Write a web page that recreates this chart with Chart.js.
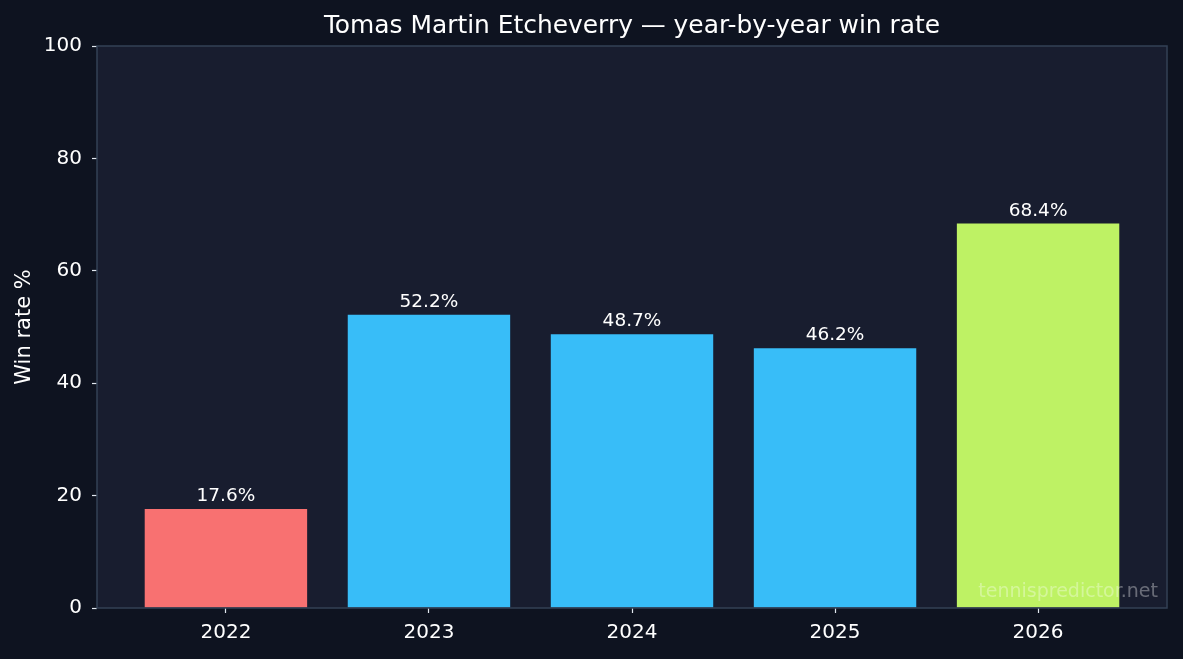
<!DOCTYPE html>
<html>
<head>
<meta charset="utf-8">
<script src="https://cdn.jsdelivr.net/npm/chart.js@4.4.1/dist/chart.umd.min.js"></script>
<style>
  html, body { margin: 0; padding: 0; background: #0e1320; }
  #wrap { width: 1183px; height: 659px; }
</style>
</head>
<body>
<div id="wrap"><canvas id="chart" width="1183" height="659"></canvas></div>
<script>
// data
const years = [2022, 2023, 2024, 2025, 2026];
const winRates = [17.6, 52.2, 48.7, 46.2, 68.4];
const barColors = ['#f87171', '#38bdf8', '#38bdf8', '#38bdf8', '#bef264'];
const yTicks = [0, 20, 40, 60, 80, 100];

const titleText = 'Tomas Martin Etcheverry \u2014 year-by-year win rate';
const font = "'DejaVu Sans', sans-serif";

// background of the plot area, frame, title, value labels, watermark
const decor = {
  id: 'decor',
  beforeDatasetsDraw(chart) {
    const { ctx, chartArea: a } = chart;
    ctx.save();
    ctx.fillStyle = '#181d2f';
    ctx.fillRect(a.left, a.top, a.right - a.left, a.bottom - a.top);
    ctx.restore();
  },
  afterDatasetsDraw(chart) {
    const { ctx, chartArea: a } = chart;
    ctx.save();
    // labels above bars
    ctx.fillStyle = '#ffffff';
    ctx.font = '18.5px ' + font;
    ctx.textAlign = 'center';
    ctx.textBaseline = 'alphabetic';
    chart.getDatasetMeta(0).data.forEach((bar, i) => {
      ctx.fillText(winRates[i].toFixed(1) + '%', bar.x, bar.y - 8);
    });
    // watermark
    ctx.fillStyle = 'rgba(255,255,255,0.35)';
    ctx.font = '19px ' + font;
    ctx.textAlign = 'right';
    ctx.fillText('tennispredictor.net', a.right - 9, a.bottom - 11);
    // frame
    ctx.strokeStyle = '#334155';
    ctx.lineWidth = 1.5;
    ctx.strokeRect(a.left, a.top, a.right - a.left, a.bottom - a.top);
    // title
    ctx.fillStyle = '#ffffff';
    ctx.font = '24.9px ' + font;
    ctx.textAlign = 'center';
    ctx.fillText(titleText, (a.left + a.right) / 2, 33);
    ctx.restore();
  }
};

new Chart(document.getElementById('chart'), {
  type: 'bar',
  data: {
    datasets: [{
      data: years.map((y, i) => ({ x: y, y: winRates[i] })),
      backgroundColor: barColors,
      borderWidth: 0,
      barPercentage: 1,
      categoryPercentage: 0.8
    }]
  },
  options: {
    responsive: false,
    animation: false,
    layout: { padding: { top: 46, right: 16, left: 0, bottom: 0 } },
    plugins: {
      legend: { display: false },
      tooltip: { enabled: false }
    },
    scales: {
      x: {
        type: 'linear',
        offset: false,
        min: years[0] - 0.635,
        max: years[years.length - 1] + 0.635,
        afterBuildTicks: s => { s.ticks = years.map(v => ({ value: v })); },
        afterFit: s => { s.height = 51; },
        grid: { offset: false, drawOnChartArea: false, drawTicks: true, tickLength: 5, tickColor: '#e2e8f0', tickWidth: 1.2 },
        border: { display: false },
        ticks: { color: '#ffffff', font: { family: font, size: 20 }, padding: 8, callback: v => String(v) }
      },
      y: {
        min: 0,
        max: 100,
        afterBuildTicks: s => { s.ticks = yTicks.map(v => ({ value: v })); },
        afterFit: s => { s.width = 97; },
        grid: { drawOnChartArea: false, drawTicks: true, tickLength: 5, tickColor: '#e2e8f0', tickWidth: 1.2 },
        border: { display: false },
        ticks: { color: '#ffffff', font: { family: font, size: 20 }, padding: 10 },
        title: { display: true, text: 'Win rate %', color: '#ffffff', font: { family: font, size: 21 }, padding: { top: 12, bottom: 0 } }
      }
    }
  },
  plugins: [decor]
});
</script>
</body>
</html>
